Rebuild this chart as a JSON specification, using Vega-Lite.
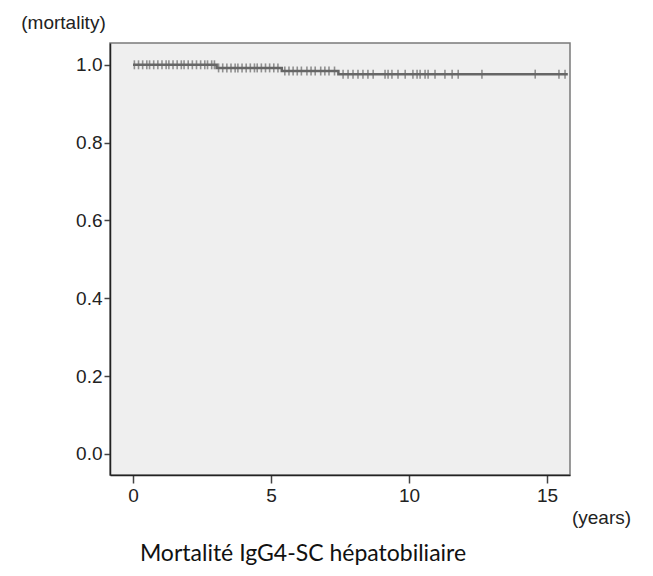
{
  "$schema": "https://vega.github.io/schema/vega-lite/v6.json",
  "autosize": {"type": "none"},
  "width": 460,
  "height": 432,
  "padding": {"left": 110, "top": 43, "right": 83, "bottom": 101},
  "background": "white",
  "config": {
    "view": {"fill": "#efefef", "stroke": "#7a7a7a", "strokeWidth": 1.5},
    "font": "Liberation Sans"
  },
  "title": {
    "text": "Mortalité IgG4-SC hépatobiliaire",
    "orient": "bottom",
    "anchor": "middle",
    "frame": "group",
    "dx": -37,
    "offset": 16,
    "font": "Lato",
    "fontSize": 23,
    "fontWeight": "normal",
    "color": "#111"
  },
  "datasets": {
    "curve": [
      {"years": 0, "mortality": 1.0},
      {"years": 3.03, "mortality": 0.992},
      {"years": 5.39, "mortality": 0.984},
      {"years": 7.44, "mortality": 0.976},
      {"years": 15.75, "mortality": 0.976}
    ],
    "censor": [
      {"years": 0.05, "mortality": 1.0}, {"years": 0.2, "mortality": 1.0}, {"years": 0.35, "mortality": 1.0},
      {"years": 0.5, "mortality": 1.0}, {"years": 0.6, "mortality": 1.0}, {"years": 0.75, "mortality": 1.0},
      {"years": 0.9, "mortality": 1.0}, {"years": 1.05, "mortality": 1.0}, {"years": 1.2, "mortality": 1.0},
      {"years": 1.3, "mortality": 1.0}, {"years": 1.45, "mortality": 1.0}, {"years": 1.6, "mortality": 1.0},
      {"years": 1.75, "mortality": 1.0}, {"years": 1.85, "mortality": 1.0}, {"years": 2.0, "mortality": 1.0},
      {"years": 2.15, "mortality": 1.0}, {"years": 2.3, "mortality": 1.0}, {"years": 2.45, "mortality": 1.0},
      {"years": 2.6, "mortality": 1.0}, {"years": 2.7, "mortality": 1.0}, {"years": 2.85, "mortality": 1.0},
      {"years": 2.95, "mortality": 1.0},
      {"years": 3.1, "mortality": 0.992}, {"years": 3.25, "mortality": 0.992}, {"years": 3.4, "mortality": 0.992},
      {"years": 3.55, "mortality": 0.992}, {"years": 3.7, "mortality": 0.992}, {"years": 3.8, "mortality": 0.992},
      {"years": 3.95, "mortality": 0.992}, {"years": 4.1, "mortality": 0.992}, {"years": 4.25, "mortality": 0.992},
      {"years": 4.4, "mortality": 0.992}, {"years": 4.5, "mortality": 0.992}, {"years": 4.65, "mortality": 0.992},
      {"years": 4.8, "mortality": 0.992}, {"years": 4.95, "mortality": 0.992}, {"years": 5.1, "mortality": 0.992},
      {"years": 5.25, "mortality": 0.992},
      {"years": 5.5, "mortality": 0.984}, {"years": 5.65, "mortality": 0.984}, {"years": 5.8, "mortality": 0.984},
      {"years": 5.95, "mortality": 0.984}, {"years": 6.1, "mortality": 0.984}, {"years": 6.3, "mortality": 0.984},
      {"years": 6.45, "mortality": 0.984}, {"years": 6.6, "mortality": 0.984}, {"years": 6.8, "mortality": 0.984},
      {"years": 6.95, "mortality": 0.984}, {"years": 7.1, "mortality": 0.984}, {"years": 7.3, "mortality": 0.984},
      {"years": 7.61, "mortality": 0.976}, {"years": 7.79, "mortality": 0.976}, {"years": 7.97, "mortality": 0.976},
      {"years": 8.15, "mortality": 0.976}, {"years": 8.33, "mortality": 0.976}, {"years": 8.51, "mortality": 0.976},
      {"years": 8.7, "mortality": 0.976}, {"years": 9.13, "mortality": 0.976}, {"years": 9.24, "mortality": 0.976},
      {"years": 9.38, "mortality": 0.976}, {"years": 9.6, "mortality": 0.976}, {"years": 9.86, "mortality": 0.976},
      {"years": 10.14, "mortality": 0.976}, {"years": 10.29, "mortality": 0.976}, {"years": 10.4, "mortality": 0.976},
      {"years": 10.58, "mortality": 0.976}, {"years": 10.69, "mortality": 0.976}, {"years": 10.94, "mortality": 0.976},
      {"years": 11.3, "mortality": 0.976}, {"years": 11.56, "mortality": 0.976}, {"years": 11.78, "mortality": 0.976},
      {"years": 12.64, "mortality": 0.976}, {"years": 14.57, "mortality": 0.976}, {"years": 15.43, "mortality": 0.976},
      {"years": 15.65, "mortality": 0.976}
    ]
  },
  "encoding": {
    "x": {
      "field": "years",
      "type": "quantitative",
      "scale": {"domain": [-0.833, 15.83], "nice": false, "zero": false},
      "axis": {
        "values": [0, 5, 10, 15],
        "grid": false,
        "title": "(years)",
        "titleAngle": 0,
        "titleAlign": "center",
        "titleBaseline": "middle",
        "titleX": 491,
        "titleY": 42,
        "titleFontSize": 19,
        "titleFontWeight": "normal",
        "titleColor": "#222",
        "titleFont": "Liberation Sans",
        "labelFontSize": 19,
        "labelColor": "#222",
        "labelPadding": 3,
        "tickSize": 8,
        "tickColor": "#444",
        "tickWidth": 1.5,
        "domainColor": "#222",
        "domainWidth": 1.5
      }
    },
    "y": {
      "field": "mortality",
      "type": "quantitative",
      "scale": {"domain": [-0.054, 1.056], "nice": false, "zero": false},
      "axis": {
        "values": [0, 0.2, 0.4, 0.6, 0.8, 1.0],
        "format": ".1f",
        "grid": false,
        "title": "(mortality)",
        "titleAngle": 0,
        "titleAlign": "center",
        "titleBaseline": "middle",
        "titleX": -47,
        "titleY": -21,
        "titleFontSize": 19,
        "titleFontWeight": "normal",
        "titleColor": "#222",
        "titleFont": "Liberation Sans",
        "labelFontSize": 19,
        "labelColor": "#222",
        "labelPadding": 2,
        "tickSize": 6,
        "tickColor": "#444",
        "tickWidth": 1.5,
        "domainColor": "#222",
        "domainWidth": 1.5
      }
    }
  },
  "layer": [
    {
      "data": {"name": "curve"},
      "mark": {"type": "line", "interpolate": "step-after", "color": "#666666", "strokeWidth": 2.5}
    },
    {
      "data": {"name": "censor"},
      "mark": {"type": "tick", "orient": "vertical", "size": 9, "thickness": 1.6, "color": "#666"}
    }
  ]
}
